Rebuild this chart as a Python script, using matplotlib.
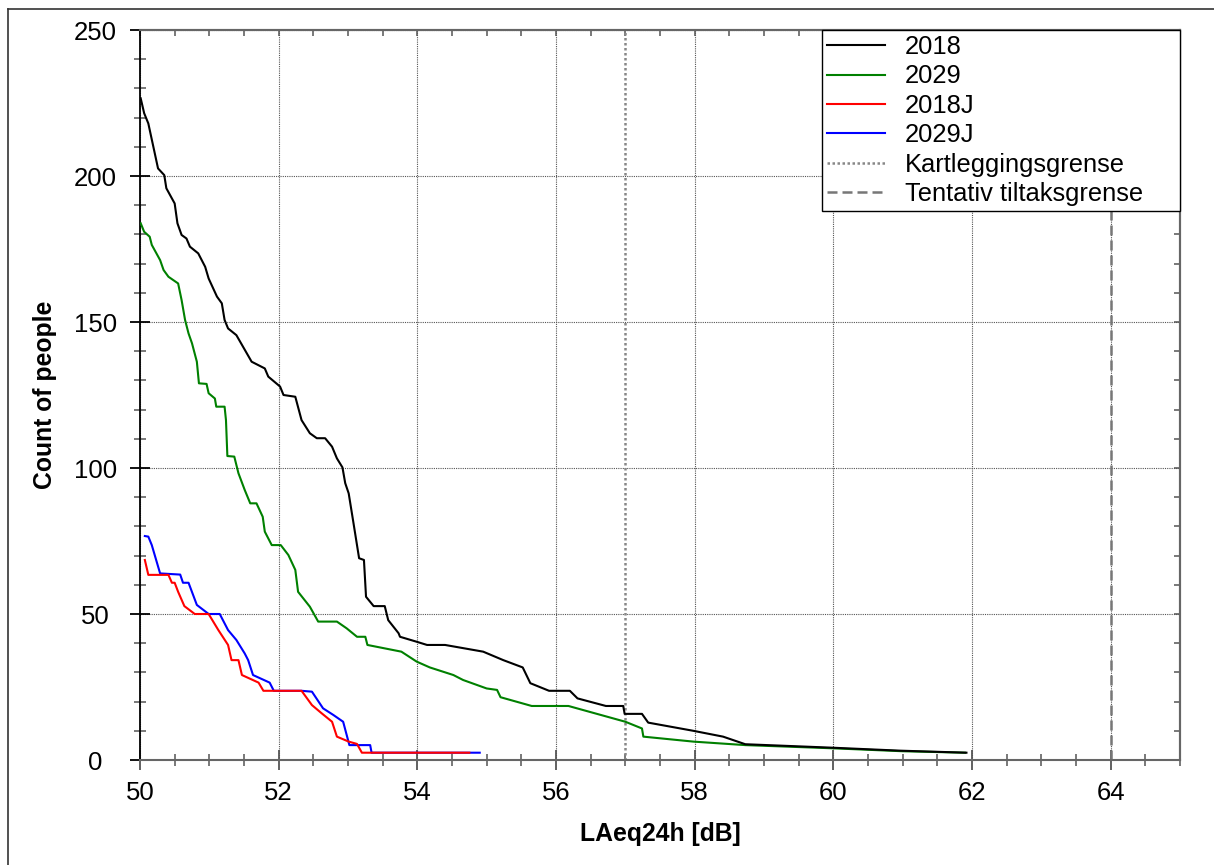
import numpy as np
import matplotlib
matplotlib.use("Agg")
import matplotlib.pyplot as plt
from matplotlib.ticker import MultipleLocator, NullFormatter
from matplotlib.lines import Line2D

plt.rcParams['font.family'] = ['Liberation Sans', 'DejaVu Sans']

# cumulative count of people above each level
x_2018 = [50.01, 50.06, 50.12, 50.14, 50.26, 50.35, 50.38, 50.50, 50.54, 50.60, 50.67, 50.72,
          50.84, 50.94, 50.99, 51.11, 51.18, 51.22, 51.27, 51.39, 51.61, 51.80, 51.85, 52.02,
          52.07, 52.24, 52.33, 52.45, 52.55, 52.67, 52.77, 52.84, 52.92, 52.96, 53.01, 53.08,
          53.16, 53.23, 53.26, 53.37, 53.53, 53.58, 53.73, 53.75, 53.99, 54.14, 54.40, 54.95,
          55.24, 55.52, 55.63, 55.90, 56.20, 56.31, 56.72, 56.97, 56.99, 57.24, 57.33, 57.98,
          58.41, 58.73, 60.00, 60.96, 61.92]
y_2018 = [226.6, 221.5, 218.0, 215.8, 202.6, 200.3, 195.8, 190.6, 183.8, 179.8, 178.6, 175.8,
          173.5, 168.9, 164.9, 158.7, 156.4, 150.7, 147.8, 145.5, 136.4, 134.1, 131.3, 127.9,
          125.0, 124.4, 116.4, 111.9, 110.2, 110.2, 107.3, 103.3, 100.2, 94.8, 91.3, 81.0,
          69.1, 68.5, 55.9, 52.7, 52.7, 47.9, 43.4, 42.2, 40.5, 39.4, 39.4, 37.1,
          34.2, 31.7, 26.3, 23.7, 23.7, 21.1, 18.5, 18.5, 15.8, 15.8, 12.8, 10.0,
          8.0, 5.4, 4.2, 3.2, 2.5]

x_2029 = [50.01, 50.06, 50.14, 50.17, 50.29, 50.34, 50.41, 50.55, 50.60, 50.65, 50.70, 50.75,
          50.82, 50.85, 50.96, 50.99, 51.08, 51.10, 51.22, 51.24, 51.26, 51.36, 51.42, 51.51,
          51.59, 51.68, 51.77, 51.80, 51.90, 52.03, 52.14, 52.24, 52.28, 52.45, 52.57, 52.84,
          52.98, 53.13, 53.25, 53.28, 53.77, 53.99, 54.18, 54.52, 54.66, 55.00, 55.15, 55.20,
          55.65, 56.18, 57.00, 57.24, 57.26, 57.98, 58.73, 60.00, 61.00, 61.90]
y_2029 = [183.8, 180.9, 179.2, 176.4, 171.2, 167.8, 165.5, 163.2, 157.5, 150.7, 146.1, 142.7,
          136.4, 129.0, 128.8, 125.6, 123.8, 121.0, 121.0, 116.4, 104.1, 103.9, 98.2, 92.5,
          87.9, 87.9, 83.3, 78.2, 73.6, 73.6, 70.2, 65.1, 57.6, 52.5, 47.4, 47.4,
          45.1, 42.2, 42.2, 39.4, 37.1, 33.7, 31.7, 29.1, 27.4, 24.5, 24.0, 21.5,
          18.5, 18.5, 13.1, 10.8, 8.0, 6.3, 5.1, 4.0, 3.0, 2.5]

x_2018J = [50.07, 50.12, 50.41, 50.46, 50.50, 50.55, 50.64, 50.79, 50.99, 51.13, 51.27, 51.32,
           51.42, 51.47, 51.71, 51.78, 52.33, 52.48, 52.62, 52.77, 52.84, 53.01, 53.13, 53.20,
           54.75]
y_2018J = [68.5, 63.4, 63.4, 60.7, 60.7, 57.6, 52.7, 50.0, 50.0, 44.5, 39.4, 34.2,
           34.2, 29.1, 26.5, 23.7, 23.7, 18.8, 16.0, 13.1, 8.0, 6.3, 5.5, 2.5,
           2.5]

x_2029J = [50.07, 50.12, 50.17, 50.29, 50.58, 50.62, 50.70, 50.82, 50.99, 51.15, 51.27, 51.39,
           51.51, 51.56, 51.63, 51.87, 51.93, 52.33, 52.48, 52.64, 52.79, 52.93, 53.02, 53.32,
           53.34, 54.90]
y_2029J = [76.7, 76.5, 73.6, 63.9, 63.5, 60.7, 60.7, 53.1, 50.0, 50.0, 44.5, 41.1,
           36.5, 34.2, 29.1, 26.5, 23.7, 23.7, 23.4, 17.7, 15.4, 13.1, 5.1, 5.1,
           2.5, 2.5]

kartlegging = 57
tiltak = 64

fig = plt.figure(figsize=(12.14, 8.65), dpi=100)
ax = fig.add_axes([140 / 1214, 1 - 760 / 865, 1040 / 1214, 730 / 865])

# frame lines of the original screenshot
fig.add_artist(Line2D([8 / 1214, 8 / 1214], [0, 1 - 9 / 865], transform=fig.transFigure,
                      color='#333333', lw=1.2))
fig.add_artist(Line2D([8 / 1214, 1], [1 - 9 / 865, 1 - 9 / 865], transform=fig.transFigure,
                      color='#333333', lw=1.2))

ax.plot(x_2018, y_2018, color='black', lw=1.5, label='2018', zorder=4)
ax.plot(x_2029, y_2029, color='#008000', lw=1.5, label='2029', zorder=3)
ax.plot(x_2018J, y_2018J, color='#ff0000', lw=1.5, label='2018J', zorder=4)
ax.plot(x_2029J, y_2029J, color='#0000ff', lw=1.5, label='2029J', zorder=3)
ax.axvline(kartlegging, color='#888888', lw=1.8, ls=(0, (1, 1)), label='Kartleggingsgrense', zorder=2)
ax.axvline(tiltak, color='#777777', lw=1.8, ls=(0, (4, 2)), label='Tentativ tiltaksgrense', zorder=2)

ax.set_xlim(50, 65)
ax.set_ylim(0, 250)
ax.xaxis.set_major_locator(MultipleLocator(2))
ax.xaxis.set_minor_locator(MultipleLocator(0.5))
ax.yaxis.set_major_locator(MultipleLocator(50))
ax.yaxis.set_minor_locator(MultipleLocator(10))

ax.grid(True, which='major', color='#555555', lw=0.8, ls=(0, (1, 1)))

for side in ['bottom', 'top', 'right']:
    ax.spines[side].set_color('#666666')
    ax.spines[side].set_linewidth(1.5)
ax.spines['left'].set_color('black')
ax.spines['left'].set_linewidth(1.3)

ax.tick_params(axis='x', which='major', direction='inout', length=14, width=1.3,
               color='#555555', labelsize=18.5, pad=8, top=False)
ax.tick_params(axis='x', which='minor', direction='inout', length=8, width=1.1,
               color='#555555', top=False)
ax.tick_params(axis='y', which='major', direction='inout', length=14, width=1.3,
               color='black', labelsize=18.5, pad=25, right=False)
ax.tick_params(axis='y', which='minor', direction='inout', length=8, width=1.1,
               color='#555555', right=False)
for lab in ax.get_yticklabels():
    lab.set_horizontalalignment('center')

# inward ticks on the top and right edges
top = ax.secondary_xaxis('top')
top.xaxis.set_major_locator(MultipleLocator(0.5))
top.xaxis.set_major_formatter(NullFormatter())
top.tick_params(direction='in', length=4, width=1.1, color='#555555')
top.spines['top'].set_color('#666666')
top.spines['top'].set_linewidth(1.5)
right = ax.secondary_yaxis('right')
right.yaxis.set_major_locator(MultipleLocator(10))
right.yaxis.set_major_formatter(NullFormatter())
right.tick_params(direction='in', length=4, width=1.1, color='#555555')
right.spines['right'].set_color('#666666')
right.spines['right'].set_linewidth(1.5)

ax.set_xlabel('LAeq24h [dB]', fontsize=17.8, fontweight='bold', labelpad=12)
ax.set_ylabel('Count of people', fontsize=17.8, fontweight='bold', labelpad=12)

leg_w = 358 / 1040
leg = ax.legend(loc='upper left', bbox_to_anchor=(1 - leg_w, 0, leg_w, 1), mode='expand',
                fontsize=18.4, fancybox=False, framealpha=1,
                edgecolor='black', borderaxespad=0, handlelength=2.25,
                handletextpad=0.8, labelspacing=0.21, borderpad=0.2)
leg.get_frame().set_linewidth(1.0)
leg.set_zorder(10)

fig.savefig('out.png', dpi=100)
